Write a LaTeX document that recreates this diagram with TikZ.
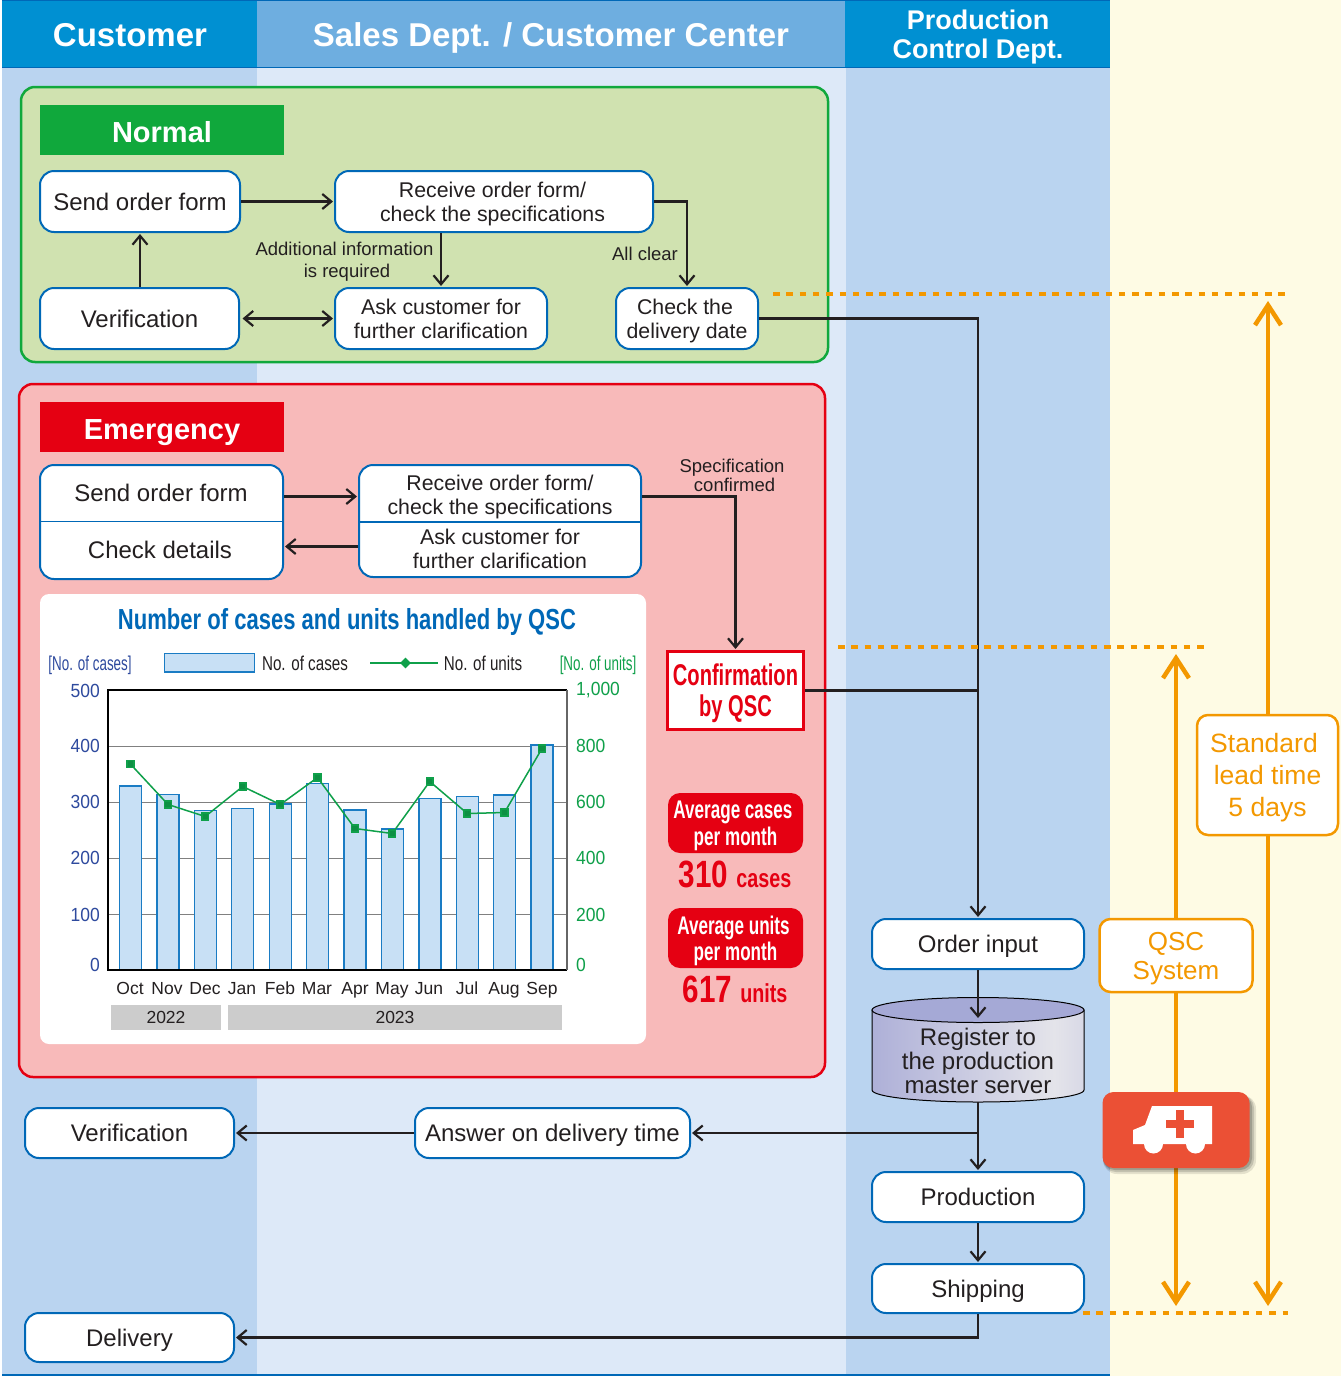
\documentclass[tikz,border=0pt]{standalone}
\usepackage{fontspec}
\setmainfont{Liberation Sans}
\newfontfamily\condfont[FakeStretch=0.76]{Liberation Sans}
\newfontfamily\narrowfont[FakeStretch=0.67]{Liberation Sans}
\newfontfamily\numfont[FakeStretch=0.78]{Liberation Sans}
\newfontfamily\slimfont[FakeStretch=0.92]{Liberation Sans}
\usetikzlibrary{arrows.meta}
\usetikzlibrary{shapes.geometric}
\usetikzlibrary{plotmarks}

\definecolor{hdrblue}{HTML}{0090D2}
\definecolor{hdrlight}{HTML}{6EAEE0}
\definecolor{bandblue}{HTML}{BAD4F0}
\definecolor{bandlight}{HTML}{DDE9F8}
\definecolor{bandcream}{HTML}{FEFBE4}
\definecolor{lineblue}{HTML}{0068B7}
\definecolor{normalfill}{HTML}{D0E2B0}
\definecolor{normalgreen}{HTML}{10A83C}
\definecolor{emergfill}{HTML}{F8BABA}
\definecolor{emergred}{HTML}{E50012}
\definecolor{qorange}{HTML}{F39800}
\definecolor{ambred}{HTML}{EB5035}
\definecolor{axisblue}{HTML}{2E4A9E}
\definecolor{axisgreen}{HTML}{0FA04A}
\definecolor{barfill}{HTML}{C8E0F5}
\definecolor{barline}{HTML}{1A7CC4}
\definecolor{inkgray}{HTML}{231F20}
\definecolor{srvtop}{HTML}{A5A9D6}
\definecolor{srvside}{HTML}{AEB0D8}
\definecolor{srvmid}{HTML}{E4E4EA}
\pgfdeclarehorizontalshading{srvbody}{100bp}{color(0bp)=(srvside); color(25bp)=(srvside); color(68bp)=(srvmid); color(100bp)=(srvside)}

\newcommand{\px}[2]{\fontsize{#1}{#2}\selectfont}

\tikzset{
  flowbox/.style={draw=lineblue, line width=2pt, fill=white, rounded corners=14pt, align=center, inner sep=0pt, text=inkgray, text depth=0pt, font=\px{24}{24}},
  smallbox/.style={flowbox, font=\px{21.3}{24}},
  boxtext/.style={text=inkgray, inner sep=0pt, align=center, text depth=0pt},
  headbox/.style={fill=#1, text=white, inner sep=0pt, minimum width=244, minimum height=50, text height=25pt, text depth=0pt, font=\bfseries\px{29}{30}},
  hdrtext/.style={text=white, align=center, inner sep=0pt, text depth=0pt, font=\bfseries\px{33}{33}},
  note/.style={align=center, inner sep=0pt, text=inkgray, text depth=0pt, font=\px{18.5}{22}},
  flowarrow/.style={line width=2.2pt, draw=inkgray, -{Straight Barb[length=9pt,width=15pt]}, shorten >=1pt},
  flowline/.style={line width=2.2pt, draw=inkgray},
  orangedots/.style={draw=qorange, line width=3.6pt, dash pattern=on 6.5pt off 6.8pt},
  orangearrow/.style={draw=qorange, line width=4.5pt, {Straight Barb[length=20pt,width=26pt]}-{Straight Barb[length=20pt,width=26pt]}},
  orangebox/.style={draw=qorange, line width=2.5pt, fill=white, rounded corners=11pt, text=qorange, align=center, inner sep=0pt, text depth=0pt},
  redtag/.style={fill=emergred, rounded corners=12pt, text=white, align=center, inner sep=0pt, text depth=0pt, minimum width=135, minimum height=60, font=\narrowfont\bfseries\px{25.5}{26.5}},
  casebar/.style={draw=barline, line width=1.4pt, fill=barfill},
  leftnum/.style={text=axisblue, anchor=east, inner sep=0pt, font=\slimfont\px{19}{19}},
  rightnum/.style={text=axisgreen, anchor=west, inner sep=0pt, font=\slimfont\px{19}{19}},
  monthlabel/.style={text=inkgray, inner sep=0pt, text height=13pt, text depth=0pt, font=\px{17.5}{18}},
  legendlabel/.style={text=inkgray, inner sep=0pt, font=\condfont\px{20}{20}},
  yearbar/.style={fill=black!20, text=inkgray, inner sep=0pt, minimum height=25, font=\px{17.5}{18}}
}

\begin{document}
\begin{tikzpicture}[x=1pt,y=-1pt]
\useasboundingbox (0,0) rectangle (1341,1376);
\fill[white] (0,0) rectangle (1341,1376);

% bands
\fill[bandblue] (2,68) rectangle (257,1374);
\fill[bandlight] (257,68) rectangle (846,1374);
\fill[bandblue] (846,68) rectangle (1110,1374);
\fill[bandcream] (1110,0) rectangle (1341,1376);
\fill[hdrblue] (2,1) rectangle (257,68);
\fill[hdrlight] (257,1) rectangle (845,68);
\fill[hdrblue] (845,1) rectangle (1110,68);
\draw[lineblue, line width=1pt] (2,67.5) -- (1110,67.5);
\draw[lineblue, line width=1pt] (2,0.5) -- (1110,0.5);
\draw[lineblue, line width=2pt] (2,1374.5) -- (1110,1374.5);
\node[hdrtext] (hCustomer) at (130,35) {Customer};
\node[hdrtext] (hSales) at (551,35) {Sales Dept. / Customer Center};
\node[hdrtext, font=\bfseries\px{27}{29}] (hProd) at (978,34) {Production\\Control Dept.};

% normal
\draw[draw=normalgreen, line width=2.5pt, fill=normalfill, rounded corners=14pt] (21,87) rectangle (828,362);
\node[headbox=normalgreen] (nHead) at (162,130) {Normal};
\node[flowbox, minimum width=200, minimum height=61] (nSend) at (140,201.5) {Send order form};
\node[smallbox, minimum width=318, minimum height=61] (nReceive) at (494,201.5) {Receive order form/\hspace*{3pt}\\check the specifications\hspace*{3pt}};
\node[flowbox, minimum width=199, minimum height=61] (nVerify) at (139.5,318.5) {Verification};
\node[smallbox, minimum width=212, minimum height=61] (nAsk) at (441,318.5) {Ask customer for\\further clarification};
\node[smallbox, minimum width=142, minimum height=61] (nCheck) at (687,318.5) {Check the\hspace*{4pt}\\delivery date};
\node[note] (nAdd) at (344.5,260) {Additional information\\\hspace*{5pt}is required};
\node[note] (nClear) at (645,254) {All clear};
\draw[flowarrow] (nSend) -- (nReceive);
\draw[flowarrow] (nReceive.east) -| (nCheck);
\draw[flowarrow] (nAsk |- nReceive.south) -- (nAsk);
\draw[flowarrow] (nVerify.north -| nSend) -- (nSend);
\draw[flowarrow, {Straight Barb[length=9pt,width=15pt]}-{Straight Barb[length=9pt,width=15pt]}, shorten <=2.5pt] (nVerify) -- (nAsk);

% emergency
\draw[draw=emergred, line width=2.5pt, fill=emergfill, rounded corners=14pt] (19,384) rectangle (825,1077);
\node[headbox=emergred] (eHead) at (162,427) {Emergency};
\node[flowbox, minimum width=243, minimum height=114] (eBoxA) at (161.5,522) {};
\node[flowbox, minimum width=282, minimum height=112] (eBoxB) at (500,521) {};
\draw[lineblue, line width=1.2pt] (eBoxA.west |- 0,521.5) -- (eBoxA.east |- 0,521.5);
\draw[lineblue, line width=1.2pt] (eBoxB.west |- 0,522) -- (eBoxB.east |- 0,522);
\node[boxtext, font=\px{24}{24}] (eSend) at (161,493) {Send order form};
\node[boxtext, font=\px{24}{24}] (eDetails) at (160,550) {Check details};
\node[boxtext, font=\px{21.3}{24}] (eReceive) at (500,495) {Receive order form/\\check the specifications};
\node[boxtext, font=\px{21.3}{24}] (eAsk) at (500,549) {Ask customer for\\further clarification};
\node[note, font=\px{18.5}{19}] (eSpec) at (732,475) {Specification\\\ confirmed};
\node[draw=emergred, line width=3pt, fill=white, text=emergred, align=center, inner sep=0pt, text depth=0pt, minimum width=136, minimum height=78, font=\narrowfont\bfseries\px{30}{31}] (eConfirm) at (735.5,690.5) {Confirmation\\by QSC};
\coordinate (eRowA) at (0,496.5);
\coordinate (eRowB) at (0,546.5);
\draw[flowarrow] (eBoxA.east |- eRowA) -- (eBoxB.west |- eRowA);
\draw[flowarrow] (eBoxB.west |- eRowB) -- (eBoxA.east |- eRowB);
\draw[flowarrow] (eBoxB.east |- eRowA) -| (eConfirm.north);

% chart
\fill[white, rounded corners=9pt] (40,594) rectangle (646,1044);
\node[inner sep=0pt, text=lineblue, font=\condfont\bfseries\px{29}{29}] (cTitle) at (347,622) {Number of cases and units handled by QSC};
\node[inner sep=0pt, text=axisblue, font=\narrowfont\px{20}{20}] (cLeftUnit) at (90,665) {[No. of cases]};
\node[inner sep=0pt, text=axisgreen, font=\narrowfont\px{20}{20}] (cRightUnit) at (598,665) {[No. of units]};
\draw[casebar] (164.5,653.5) rectangle (254.5,672);
\node[legendlabel] (cLegCases) at (305,663) {No. of cases};
\draw[draw=axisgreen, line width=1.5pt] (370,663) -- (438,663);
\node[diamond, fill=axisgreen, inner sep=0pt, minimum size=11] (cLegDot) at (405.5,663) {};
\node[legendlabel] (cLegUnits) at (483,663) {No. of units};
\draw[black!50, line width=1pt] (108,746) -- (567,746);
\draw[black!50, line width=1pt] (108,802) -- (567,802);
\draw[black!50, line width=1pt] (108,858) -- (567,858);
\draw[black!50, line width=1pt] (108,914) -- (567,914);
\draw[casebar] (119.4,970) rectangle (141.4,786);
\draw[casebar] (157,970) rectangle (179,794.5);
\draw[casebar] (194.2,970) rectangle (216.2,810.5);
\draw[casebar] (231.7,970) rectangle (253.7,808.5);
\draw[casebar] (269.3,970) rectangle (291.3,804);
\draw[casebar] (306.5,970) rectangle (328.5,783.5);
\draw[casebar] (344,970) rectangle (366,810);
\draw[casebar] (381.2,970) rectangle (403.2,829);
\draw[casebar] (418.8,970) rectangle (440.8,798.5);
\draw[casebar] (456.3,970) rectangle (478.3,796.5);
\draw[casebar] (493.5,970) rectangle (515.5,795);
\draw[casebar] (531,970) rectangle (553,745);
\draw[black, line width=1.3pt] (567,690) -- (108,690) -- (108,970) -- (567,970);
\draw[black!60, line width=1.3pt] (567,690) -- (567,970);
\draw[draw=axisgreen, line width=1.5pt] plot[mark=square*, mark size=3.4pt, mark options={fill=axisgreen!90!black, solid}] coordinates {(130.4,764) (168,804.5) (205.2,816.5) (242.7,786.5) (280.3,804.5) (317.5,777.5) (355,828.5) (392.2,833.5) (429.8,781.5) (467.3,813.5) (504.5,812.5) (542,748.5)};
\node[leftnum] (l500) at (100,691) {500};
\node[leftnum] (l400) at (100,746) {400};
\node[leftnum] (l300) at (100,802) {300};
\node[leftnum] (l200) at (100,858) {200};
\node[leftnum] (l100) at (100,915) {100};
\node[leftnum] (l0) at (100,965) {0};
\node[rightnum] (r1000) at (576,690) {1,000};
\node[rightnum] (r800) at (576,746) {800};
\node[rightnum] (r600) at (576,802) {600};
\node[rightnum] (r400) at (576,858) {400};
\node[rightnum] (r200) at (576,915) {200};
\node[rightnum] (r0) at (576,965) {0};
\node[monthlabel] (mOct) at (130,988) {Oct};
\node[monthlabel] (mNov) at (167,988) {Nov};
\node[monthlabel] (mDec) at (205,988) {Dec};
\node[monthlabel] (mJan) at (242,988) {Jan};
\node[monthlabel] (mFeb) at (280,988) {Feb};
\node[monthlabel] (mMar) at (317,988) {Mar};
\node[monthlabel] (mApr) at (355,988) {Apr};
\node[monthlabel] (mMay) at (392,988) {May};
\node[monthlabel] (mJun) at (429,988) {Jun};
\node[monthlabel] (mJul) at (467,988) {Jul};
\node[monthlabel] (mAug) at (504,988) {Aug};
\node[monthlabel] (mSep) at (542,988) {Sep};
\node[yearbar, minimum width=110] (y2022) at (166,1017.5) {2022};
\node[yearbar, minimum width=334] (y2023) at (395,1017.5) {2023};

% averages
\node[redtag] (aCases) at (735.5,823) {Average cases\hspace*{5pt}\\per month};
\node[redtag] (aUnits) at (735.5,938) {Average units\hspace*{4pt}\\per month};
\node[inner sep=0pt, text=emergred, font=\numfont\bfseries\px{38}{38}] (aCasesNum) at (735,874) {310 {\condfont\bfseries\px{26}{26}cases}};
\node[inner sep=0pt, text=emergred, font=\numfont\bfseries\px{38}{38}] (aUnitsNum) at (735,989) {617 {\condfont\bfseries\px{26}{26}units}};

% production control
\node[flowbox, minimum width=212, minimum height=50] (oInput) at (978,944) {Order input};
\path[draw=black, line width=1pt, shading=srvbody] (872,1010) -- (872,1090) arc[start angle=180, end angle=360, x radius=106pt, y radius=12pt] -- (1084,1010) -- cycle;
\draw[draw=black, line width=1pt, fill=srvtop] (978,1010) ellipse (106pt and 12.5pt);
\node[minimum width=212, minimum height=104, inner sep=0pt] (server) at (978,1050) {};
\node[boxtext, font=\px{24}{24}] (serverText) at (978,1061) {Register to\\the production\\master server};
\coordinate (serverIn) at (978,1019);
\coordinate (answerJoin) at (978,1133);
\node[flowbox, minimum width=212, minimum height=50] (oProd) at (978,1197) {Production};
\node[flowbox, minimum width=212, minimum height=49] (oShip) at (978,1288.5) {Shipping};
\node[flowbox, minimum width=209, minimum height=50] (cVerify) at (129.5,1133) {Verification};
\node[flowbox, minimum width=275, minimum height=50] (cAnswer) at (552.5,1133) {Answer on delivery time};
\node[flowbox, minimum width=209, minimum height=49] (cDelivery) at (129.5,1337.5) {Delivery};
\draw[flowarrow] (nCheck.east) -| (oInput);
\draw[flowline] (eConfirm.east) -- (eConfirm.east -| oInput);
\draw[flowarrow] (oInput) -- (serverIn);
\draw[flowarrow] (server.south) -- (oProd);
\draw[flowarrow] (oProd) -- (oShip);
\draw[flowarrow] (answerJoin) -- (cAnswer);
\draw[flowarrow] (cAnswer) -- (cVerify);
\draw[flowarrow] (oShip.south) |- (cDelivery);

% lead time
\coordinate (dotA) at (773,294);
\coordinate (dotB) at (838,647);
\coordinate (dotC) at (1083,1313);
\coordinate (leadTop) at (1268,301);
\coordinate (leadBottom) at (1268,1306);
\coordinate (qscTop) at (1176,654);
\coordinate (qscBottom) at (1176,1306);
\draw[orangedots] (dotA) -- (1286,294);
\draw[orangedots] (dotB) -- (1206,647);
\draw[orangedots] (dotC) -- (1288,1313);
\draw[orangearrow] (leadTop) -- (leadBottom);
\draw[orangearrow] (qscTop) -- (qscBottom);
\node[orangebox, minimum width=141, minimum height=120, font=\px{26.5}{32}] (leadBox) at (1267.5,775) {Standard\hspace*{7pt}\\lead time\\5 days};
\node[orangebox, minimum width=153, minimum height=73, font=\px{26}{29}] (qscBox) at (1176,955.5) {QSC\\System};
%\draw[black] (1102,1092) rectangle (1250,1168);
\fill[black, opacity=.10, rounded corners=14pt] (1103,1095) rectangle (1256,1174);
\fill[black, opacity=.14, rounded corners=13pt] (1103,1095) rectangle (1254,1172);
\fill[black, opacity=.18, rounded corners=12pt] (1103,1095) rectangle (1252,1170);
\node[fill=ambred, rounded corners=11pt, minimum width=147, minimum height=76, inner sep=0pt] (ambBox) at (1176,1130) {};
\fill[white] (1152,1106) -- (1212,1106) -- (1212,1144) -- (1205,1144) arc[start angle=0, end angle=-180, radius=9.5pt] -- (1163,1144) arc[start angle=0, end angle=-180, radius=9.5pt] -- (1133,1144) -- (1133,1130) -- (1145,1125) -- cycle;
\fill[ambred] (1176,1110) rectangle (1184,1138);
\fill[ambred] (1166,1120) rectangle (1194,1128);
\end{tikzpicture}
\end{document}
